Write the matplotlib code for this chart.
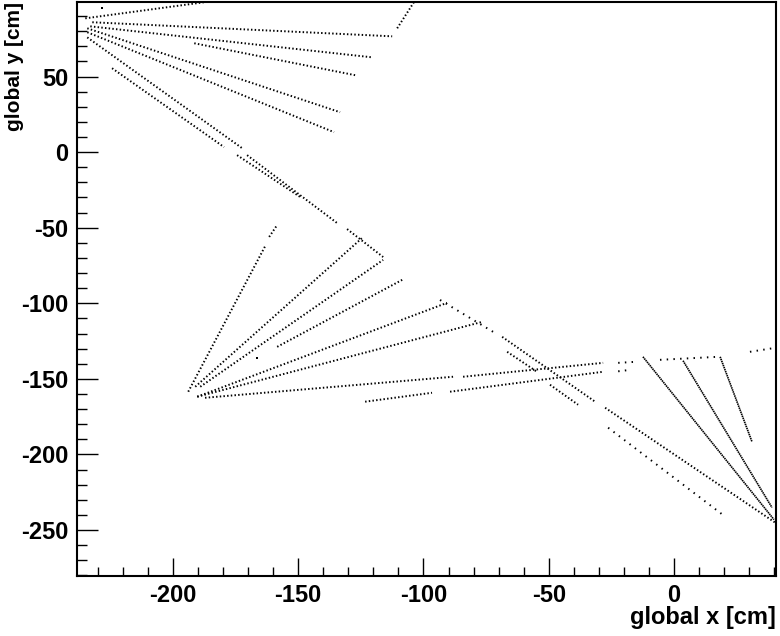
import matplotlib
matplotlib.use("Agg")
import matplotlib.pyplot as plt
from matplotlib.ticker import MultipleLocator

# hit tracks as (x, y) vertices in cm, each drawn as a dotted segment
top_fan = [
    [(-235.0, 88.5), (-186.0, 99.5)],
    [(-232.2, 85.9), (-112.5, 76.6)],
    [(-233.0, 83.2), (-120.5, 62.7)],
    [(-191.5, 72.0), (-127.3, 50.9)],
    [(-234.2, 81.9), (-133.3, 26.4)],
    [(-234.2, 79.3), (-135.7, 13.2)],
    [(-110.5, 81.9), (-103.5, 100.0)],
]
diagonal = [
    [(-234.2, 75.9), (-172.4, 2.6)],
    [(-170.4, -2.0), (-134.5, -46.9)],
    [(-130.5, -50.9), (-116.1, -69.4)],
    [(-68.6, -122.2), (-31.5, -165.1)],
    [(-27.5, -169.1), (40.3, -245.0)],
    [(-224.3, 55.5), (-179.6, 3.3)],
    [(-174.4, -2.0), (-149.2, -29.7)],
    [(-66.6, -132.1), (-54.7, -145.3)],
    [(-49.5, -153.9), (-38.3, -167.1)],
]
bottom_fan = [
    [(-193.9, -158.5), (-163.2, -62.2)],
    [(-161.6, -56.1), (-158.4, -48.2)],
    [(-191.1, -155.2), (-124.5, -56.8)],
    [(-189.1, -155.2), (-116.1, -71.3)],
    [(-158.4, -128.8), (-108.5, -84.5)],
    [(-190.3, -161.8), (-90.6, -99.7)],
    [(-190.3, -161.8), (-76.6, -112.3)],
    [(-187.2, -162.5), (-88.2, -148.6)],
    [(-84.2, -148.6), (-28.3, -139.4)],
    [(-123.3, -165.1), (-96.6, -159.2)],
    [(-89.4, -158.5), (-28.3, -145.3)],
]
right_fan = [
    [(-12.4, -135.4), (39.9, -243.1)],
    [(3.6, -138.0), (39.1, -235.1)],
    [(18.4, -135.4), (31.1, -191.5)],
]
sparse = [
    [(-93.4, -97.8), (-72.2, -118.9)],
    [(-26.3, -182.3), (20.4, -241.1)],
    [(-22.3, -139.4), (-15.1, -138.7)],
    [(-22.3, -145.0), (-18.3, -144.2)],
    [(-5.6, -137.4), (17.6, -135.4)],
    [(30.3, -132.1), (40.3, -129.5)],
]
single_x = [-228.3, -166.4]
single_y = [95.1, -136.1]

plt.rcParams['font.family'] = ['Liberation Sans', 'DejaVu Sans']
plt.rcParams['font.weight'] = 'bold'
plt.rcParams['axes.unicode_minus'] = False

fig = plt.figure(figsize=(7.8, 6.36), dpi=100)
ax = fig.add_axes([77/780, 60/636, 699/780, 574/636])

def draw(group, lw, dashes):
    for seg in group:
        xs = [p[0] for p in seg]
        ys = [p[1] for p in seg]
        ax.plot(xs, ys, color='black', lw=lw, dashes=dashes, dash_capstyle='butt')

draw(top_fan, 1.4, (0.75, 1.15))
draw(diagonal, 1.4, (0.75, 1.15))
draw(bottom_fan, 1.4, (0.75, 1.15))
draw(right_fan, 1.2, (0.9, 0.4))
draw(sparse, 1.4, (0.75, 2.7))
ax.plot(single_x, single_y, 's', color='black', ms=1.6, mew=0)

ax.set_xlim(-238.3, 40.7)
ax.set_ylim(-280.4, 99.3)

ax.xaxis.set_major_locator(MultipleLocator(50))
ax.xaxis.set_minor_locator(MultipleLocator(10))
ax.yaxis.set_major_locator(MultipleLocator(50))
ax.yaxis.set_minor_locator(MultipleLocator(10))
ax.tick_params(axis='x', which='major', direction='in', length=13, width=1, pad=6, labelsize=17)
ax.tick_params(axis='x', which='minor', direction='in', length=6.5, width=1)
ax.tick_params(axis='y', which='major', direction='in', length=15, width=1, pad=6, labelsize=17)
ax.tick_params(axis='y', which='minor', direction='in', length=7.5, width=1)
for s in ax.spines.values():
    s.set_linewidth(1.5)

fig.text(776/780, 12/636, 'global x [cm]', ha='right', va='baseline', fontsize=17, fontweight='bold')
fig.text(15/780, 634/636, 'global y [cm]', ha='center', va='top', rotation=90, fontsize=15, fontweight='bold')

fig.savefig('out.png', dpi=100)
